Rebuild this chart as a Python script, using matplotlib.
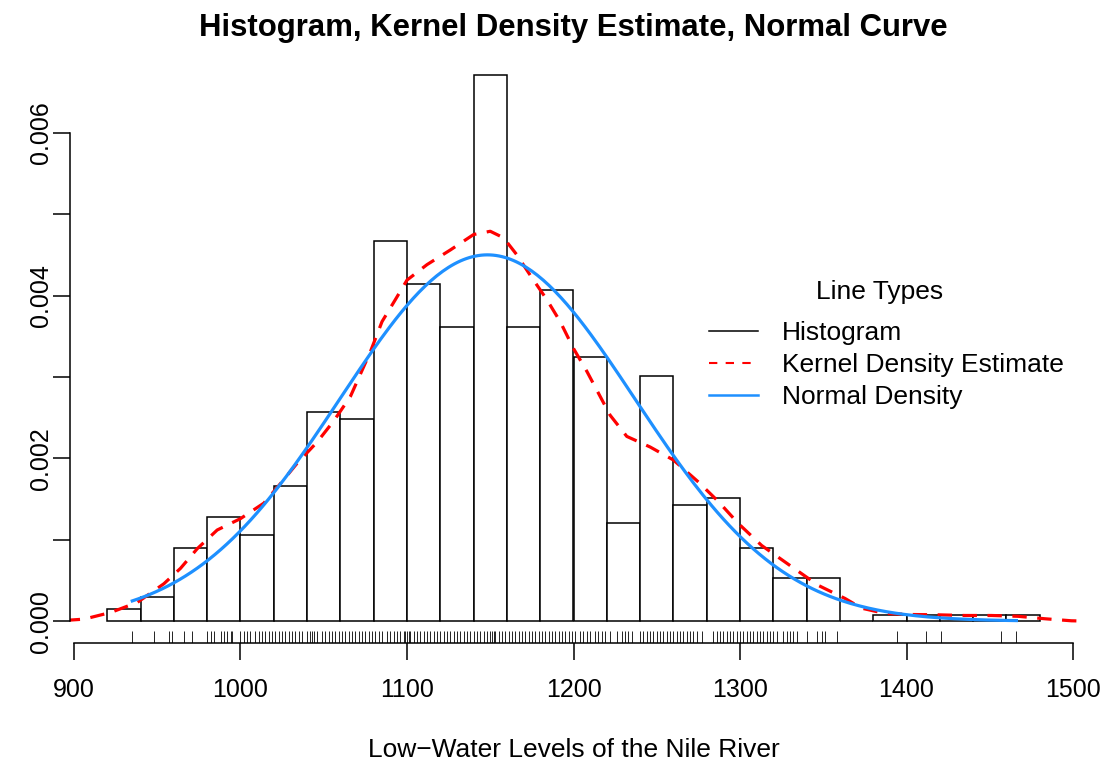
import numpy as np
import matplotlib
matplotlib.use("Agg")
import matplotlib.pyplot as plt
import matplotlib.transforms as mtransforms
from matplotlib.lines import Line2D

plt.rcParams['font.family'] = ['Liberation Sans', 'DejaVu Sans']

# histogram: 20-wide bins from 920 to 1480, counts (n = 663)
bin_edges = [920, 940, 960, 980, 1000, 1020, 1040, 1060, 1080, 1100, 1120, 1140,
             1160, 1180, 1200, 1220, 1240, 1260, 1280, 1300, 1320, 1340, 1360,
             1380, 1400, 1420, 1440, 1460, 1480]
counts = [2, 4, 12, 17, 14, 22, 34, 33, 62, 55, 48, 89, 48, 54, 43, 16, 40, 19,
          20, 12, 7, 7, 0, 1, 1, 1, 1, 1]
n_obs = 663

# kernel density estimate
kde_x = [895, 906, 922, 938, 954, 964, 974, 986, 1000, 1014, 1024, 1034, 1046,
         1056, 1066, 1078, 1085, 1093, 1100, 1112, 1126, 1140, 1150, 1158, 1166,
         1174, 1184, 1192, 1200, 1208, 1215, 1222, 1232, 1246, 1260, 1275, 1287,
         1299, 1313, 1331, 1347, 1363, 1373, 1387, 1403, 1419, 1435, 1451, 1467,
         1483, 1499, 1510]
kde_y = [0.00001, 0.000025, 0.000107, 0.00023, 0.00046, 0.00065, 0.00089,
         0.00112, 0.00126, 0.00145, 0.00169, 0.00194, 0.0022, 0.00246, 0.00276,
         0.00331, 0.00368, 0.00395, 0.00419, 0.00438, 0.00456, 0.00475, 0.00479,
         0.00471, 0.0045, 0.00425, 0.00395, 0.00368, 0.00335, 0.00307, 0.0028,
         0.00253, 0.00227, 0.00214, 0.00198, 0.00171, 0.00147, 0.0012, 0.00093,
         0.00067, 0.00044, 0.00028, 0.00016, 0.000095, 0.000082, 0.000078,
         0.00007, 0.00007, 0.00006, 0.00003, 0.000005, 0.0]

# normal curve parameters (peak and spread)
norm_mean = 1148.3
norm_sd = 88.65
data_min = 935
data_max = 1466

# rug marks along the bottom
rug = [935, 948, 957, 959, 966, 971, 980, 982, 984, 988, 990, 992, 994, 995,
       1000, 1002, 1004, 1006, 1009, 1011, 1013, 1015, 1017, 1019, 1021, 1023,
       1025, 1027, 1029, 1031, 1033, 1035, 1037, 1040, 1042, 1043, 1044, 1046,
       1049, 1051, 1053, 1055, 1057, 1059, 1061, 1063, 1065,
       1067, 1069, 1071, 1073, 1075, 1077, 1079, 1081, 1083, 1085, 1088, 1090,
       1092, 1094, 1096, 1098, 1099, 1100, 1101, 1102, 1104, 1106, 1108, 1110,
       1112, 1114, 1116, 1118, 1120, 1122, 1124, 1126, 1128, 1130, 1132, 1134,
       1136, 1138, 1140, 1142, 1144, 1146, 1148, 1150, 1151, 1152, 1153, 1155,
       1157, 1159, 1161, 1163, 1165, 1167, 1169, 1171, 1173, 1175, 1177, 1179,
       1181, 1183, 1185, 1187, 1189, 1191, 1193, 1195, 1197, 1199, 1201,
       1204, 1206, 1208, 1210, 1213, 1215, 1217, 1219, 1222, 1226, 1229, 1231,
       1233, 1235, 1240, 1242, 1244, 1246, 1248, 1250, 1252, 1254, 1256, 1258,
       1260, 1262, 1264, 1266, 1268, 1270, 1272, 1274, 1277, 1284, 1286, 1288,
       1290, 1292, 1294, 1296, 1298, 1300, 1302, 1304, 1306, 1308, 1310, 1312,
       1314, 1316, 1318, 1320, 1322, 1326, 1328, 1330, 1332, 1334,
       1340, 1346, 1349, 1351, 1358, 1394, 1412, 1421, 1457, 1466]

legend_labels = ["Histogram", "Kernel Density Estimate", "Normal Density"]

W, H = 1108, 769
fig = plt.figure(figsize=(W / 100, H / 100), dpi=100)
ax = fig.add_axes([70 / W, 1 - 643 / H, 1007 / W, 590 / H])

lefts = np.array(bin_edges[:-1])
dens = np.array(counts) / (n_obs * 20.0)
ax.bar(lefts, dens, width=20, align='edge', color='white', edgecolor='black',
       linewidth=1.1)

ax.plot(kde_x, kde_y, color='red', lw=2.3, linestyle=(0, (4.5, 3.3)))

xs = np.linspace(data_min, data_max, 300)
ys = np.exp(-0.5 * ((xs - norm_mean) / norm_sd) ** 2) / (norm_sd * np.sqrt(2 * np.pi))
ax.plot(xs, ys, color='#1E90FF', lw=2.3)

trans = mtransforms.blended_transform_factory(ax.transData, ax.transAxes)
ax.vlines(rug, 0, 0.0195, transform=trans, color='black', lw=0.6)

ax.set_xlim(897.6, 1502.4)
ax.set_ylim(-0.000268, 0.00698)

for s in ['top', 'right']:
    ax.spines[s].set_visible(False)
ax.spines['left'].set_bounds(0, 0.006)
ax.spines['bottom'].set_bounds(900, 1500)
ax.spines['left'].set_linewidth(1.1)
ax.spines['bottom'].set_linewidth(1.1)

ax.set_xticks([900, 1000, 1100, 1200, 1300, 1400, 1500])
ax.set_yticks([0, 0.001, 0.002, 0.003, 0.004, 0.005, 0.006])
ax.set_yticklabels(["0.000", "", "0.002", "", "0.004", "", "0.006"],
                   rotation=90, va='center')
ax.tick_params(axis='both', length=12, width=1.1, labelsize=18)
ax.tick_params(axis='x', pad=13)
ax.tick_params(axis='y', pad=0.5)

# legend lines are thinner than the plotted curves
handles = [Line2D([], [], color='black', lw=1.1),
           Line2D([], [], color='red', lw=1.5, linestyle=(0, (4, 4))),
           Line2D([], [], color='#1E90FF', lw=1.8)]
leg = ax.legend(handles, legend_labels, loc='center left',
                bbox_to_anchor=((709 - 70) / 1007, (643 - 365) / 590),
                frameon=False, fontsize=19,
                handlelength=1.85, handletextpad=0.9, labelspacing=0.3,
                borderpad=0, borderaxespad=0)
fig.text(880 / W, 1 - 292 / H, "Line Types", ha='center', va='center', fontsize=19)

fig.text(573.5 / W, 1 - 28 / H, "Histogram, Kernel Density Estimate, Normal Curve",
         ha='center', va='center', fontsize=22.4, fontweight='bold')
fig.text(573.5 / W, 1 - 750 / H, "Low\u2212Water Levels of the Nile River",
         ha='center', va='center', fontsize=19)

fig.savefig("out.png", dpi=100)
